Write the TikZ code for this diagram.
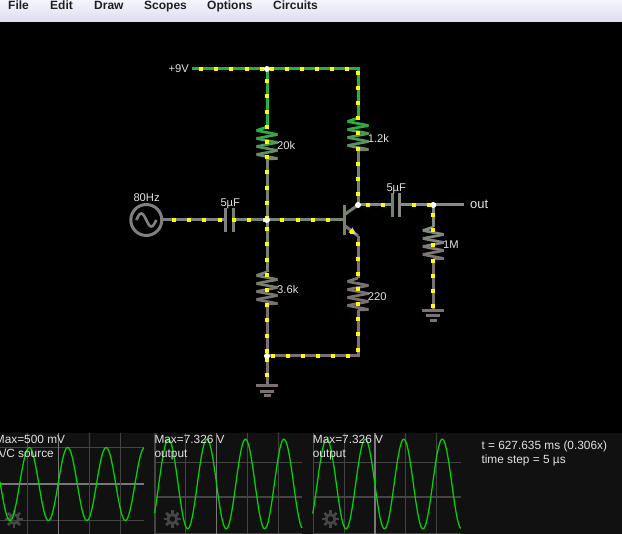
\documentclass[tikz,border=0pt]{standalone}
\usepackage{fontspec}
\setmainfont{Liberation Sans}
\definecolor{wgreen}{RGB}{38,178,60}
\definecolor{wbase}{RGB}{118,132,112}
\definecolor{wcoll}{RGB}{112,132,112}
\definecolor{wsrc}{RGB}{128,128,128}
\definecolor{wout}{RGB}{132,142,132}
\definecolor{wlow}{RGB}{124,112,112}
\definecolor{wdot}{RGB}{255,255,0}
\definecolor{lab}{RGB}{225,225,225}
\definecolor{scopebg}{RGB}{17,17,17}
\definecolor{gridlo}{RGB}{68,68,68}
\definecolor{gridhi}{RGB}{120,120,120}
\definecolor{wave}{RGB}{0,215,0}
\definecolor{gearc}{RGB}{70,70,70}
\newcommand{\zigzag}[4]{% name top, name bottom, colours
  \foreach \k in {0,...,8}{
    \pgfmathsetmacro{\mixa}{100-100*\k/8}
    \pgfmathsetmacro{\ya}{\k==0 ? 0 : (\k*4-0.5)}
    \pgfmathsetmacro{\xa}{\k==0 ? 0 : (mod(\k,2)==1 ? -10.5 : 10.5)}
    \pgfmathsetmacro{\yb}{\k==8 ? 32 : ((\k+1)*4-0.5)}
    \pgfmathsetmacro{\xb}{\k==8 ? 0 : (mod(\k+1,2)==1 ? -10.5 : 10.5)}
    \draw[reswire, draw=#3!\mixa!#4] ([shift={(\xa,\ya)}]#1) -- ([shift={(\xb,\yb)}]#1);
  }
}
\newcommand{\scopegear}[1]{%
  \begin{scope}[shift={(#1)}]
    \draw[gearc, line width=2.8pt] (0,0) circle (4.4pt);
    \foreach \a in {0,45,...,315}{
      \draw[gearc, line width=2.8pt, rotate=\a] (0,4.5) -- (0,8.6);
    }
  \end{scope}
}
\tikzset{
  x=1pt, y=-1pt,
  wire/.style={line width=3pt, line join=miter},
  reswire/.style={line width=2.7pt, line cap=butt},
  plate/.style={line width=3pt},
  gbar/.style={line width=3pt, draw=wlow},
  lbl/.style={text=lab, inner sep=0pt, anchor=base west, font=\fontsize{11.85}{14}\selectfont},
  clbl/.style={text=lab, inner sep=0pt, anchor=base west, font=\fontsize{11.2}{14}\selectfont},
  clble/.style={clbl, anchor=base east},
  menu/.style={text=black!88, inner sep=0pt, anchor=base west, font=\fontsize{12}{14}\selectfont\bfseries},
  wavepl/.style={draw=wave, line width=1.25pt, line join=round},
}
\begin{document}
\begin{tikzpicture}
\useasboundingbox (0,0) rectangle (622,534);
\fill[black] (0,0) rectangle (622,534);
% menu bar
\shade[top color=white!96!blue, bottom color=blue!8!white!94!black] (0,0) rectangle (622,22);
\node[menu] (mfile) at (8,9.3) {File};
\node[menu] (medit) at (50,9.3) {Edit};
\node[menu] (mdraw) at (94,9.3) {Draw};
\node[menu] (mscop) at (144,9.3) {Scopes};
\node[menu] (mopts) at (207,9.3) {Options};
\node[menu] (mcirc) at (273,9.3) {Circuits};
% scope strip
\fill[scopebg] (0,433) rectangle (622,534);
\foreach \yy in {447.3,520.3} \draw[gridlo, line width=1.1pt] (0,\yy) -- (144,\yy);
\draw[gridhi, line width=1.1pt] (0,484) -- (144,484);
\foreach \xx in {27.3,89.3,120.7} \draw[gridlo, line width=1.1pt] (\xx,433) -- (\xx,534);
\draw[gridhi, line width=1.1pt] (58.3,433) -- (58.3,534);
\foreach \yy in {462.3,497,533.3} {
  \draw[gridlo, line width=1.1pt] (154,\yy) -- (302,\yy);
  \draw[gridlo, line width=1.1pt] (312.7,\yy) -- (461,\yy);
}
\foreach \xx in {155,185.7,247.3,278.3,313.3,344.7,405.7,436.7} \draw[gridlo, line width=1.1pt] (\xx,433) -- (\xx,534);
\draw[gridhi, line width=1.1pt] (216.7,433) -- (216.7,534);
\draw[gridhi, line width=1.1pt] (375,433) -- (375,534);
\scopegear{14,519}
\scopegear{172.3,519}
\scopegear{330.5,519}
\draw[wavepl] plot[domain=0:144,samples=220] (\x,{484+36.5*cos((\x-10)/38.45*360)});
\draw[wavepl] plot[domain=154.5:302,samples=220] (\x,{484+44.8*cos((\x-187.7)/38.5*360)});
\draw[wavepl] plot[domain=312.7:460.7,samples=220] (\x,{484+44.8*cos((\x-346)/38.5*360)});
\node[lbl] (s1a) at (-5.3,444) {Max=500 mV};
\node[lbl] (s1b) at (-5,458) {A/C source};
\node[lbl] (s2a) at (154.3,444) {Max=7.326 V};
\node[lbl] (s2b) at (154.3,458) {output};
\node[lbl] (s3a) at (312.7,444) {Max=7.326 V};
\node[lbl] (s3b) at (312.7,458) {output};
\node[lbl] (info1) at (481.3,449.3) {t = 627.635 ms (0.306x)};
\node[lbl] (info2) at (481.3,463.3) {time step = 5 µs};
% circuit coordinates
\coordinate (vplus) at (191.7,69);
\coordinate (ntop) at (267,69);
\coordinate (ctop) at (358,69);
\coordinate (r1t) at (267,127);
\coordinate (r1b) at (267,159);
\coordinate (nbase) at (267,220);
\coordinate (r2t) at (267,272);
\coordinate (r2b) at (267,304);
\coordinate (nlow) at (267,356);
\coordinate (g1) at (267,386);
\coordinate (srcc) at (146.3,220);
\coordinate (srce) at (162.5,220);
\coordinate (c1a) at (225.7,220);
\coordinate (c1b) at (233.3,220);
\coordinate (bpin) at (344,220);
\coordinate (rct) at (358,118);
\coordinate (rcb) at (358,150);
\coordinate (ncoll) at (358,205);
\coordinate (qc) at (344,215);
\coordinate (qe) at (344,225);
\coordinate (qe2) at (358,236);
\coordinate (ret) at (358,278);
\coordinate (reb) at (358,310);
\coordinate (clow) at (358,356);
\coordinate (c2a) at (392,205);
\coordinate (c2b) at (399.5,205);
\coordinate (nout) at (433.3,205);
\coordinate (oute) at (464,205);
\coordinate (r3t) at (433.3,227);
\coordinate (r3b) at (433.3,259);
\coordinate (g2) at (433.3,310.7);
% wires
\draw[wire,wgreen] (vplus) -- (ntop);
\draw[wire,wgreen] (ntop) -- (ctop) -- (rct);
\draw[wire,wgreen] (ntop) -- (r1t);
\draw[wire,wbase] (r1b) -- (nbase);
\draw[wire,wbase] (nbase) -- (r2t);
\draw[wire,wlow] (r2b) -- (nlow);
\draw[wire,wlow] (nlow) -- (g1);
\draw[wire,wsrc] (srce) -- (c1a);
\draw[wire,wbase] (c1b) -- (nbase);
\draw[wire,wbase] (nbase) -- (bpin);
\draw[wire,wcoll] (rcb) -- (ncoll);
\draw[wire,wout] (ncoll) -- (c2a);
\draw[wire,wout] (c2b) -- (nout);
\draw[wire,wout] (nout) -- (oute);
\draw[wire,wout] (nout) -- (r3t);
\draw[wire,wlow] (r3b) -- (g2);
\draw[wire,wlow] (qe2) -- (ret);
\draw[wire,wlow] (reb) -- (clow) -- (nlow);
% resistors
\zigzag{r1t}{r1b}{wgreen}{wbase}
\zigzag{r2t}{r2b}{wbase}{wlow}
\zigzag{rct}{rcb}{wgreen}{wcoll}
\zigzag{ret}{reb}{wlow}{wlow}
\zigzag{r3t}{r3b}{wout}{wlow}
% capacitors
\draw[plate,wsrc] ([yshift=-12pt]c1a) -- ([yshift=12pt]c1a);
\draw[plate,wbase] ([yshift=-12pt]c1b) -- ([yshift=12pt]c1b);
\draw[plate,wcoll] ([yshift=-12pt]c2a) -- ([yshift=12pt]c2a);
\draw[plate,wout] ([yshift=-12pt]c2b) -- ([yshift=12pt]c2b);
% source
\draw[wsrc, line width=3pt] (srcc) circle (15.5pt);
\draw[wsrc, line width=2.6pt, shift={(srcc)}] plot[domain=-10:10,samples=40] (\x,{6.5*sin(18*\x)});
% transistor
\draw[wbase, line width=3pt] (344,205) -- (344,235);
\draw[wire,wcoll] (qc) -- (ncoll);
\draw[wire,wlow!70!wbase] (qe) -- (qe2);
\fill[black!25] (356.5,234.8) -- (348.5,232.5) -- (352.5,227.5) -- cycle;
% grounds
\draw[gbar] ([xshift=-11pt]g1) -- ([xshift=11pt]g1);
\draw[gbar] ([shift={(-7,5.3)}]g1) -- ([shift={(7,5.3)}]g1);
\draw[gbar] ([shift={(-3.5,9.7)}]g1) -- ([shift={(3.5,9.7)}]g1);
\draw[gbar] ([xshift=-11pt]g2) -- ([xshift=11pt]g2);
\draw[gbar] ([shift={(-7,5)}]g2) -- ([shift={(7,5)}]g2);
\draw[gbar] ([shift={(-3.5,9.5)}]g2) -- ([shift={(3.5,9.5)}]g2);
% current dots
\foreach \xx in {201,216.3,231.3,246.7,262,271.5,286.5,301.7,316.8,332,347.3}
  \fill[wdot] (\xx-2,67) rectangle (\xx+2,71);
\foreach \yy in {81.3,96.5,111.7,126.9,142,157.3,172.5,187.7,202.9,218,229.3,244.5,259.7,275,290,305.3,320.5,335.7,350.9,360,375}
  \fill[wdot] (265,\yy-2) rectangle (269,\yy+2);
\foreach \xx in {174,189.2,204.4,219.6,234.2,249.4,264.6,282.3,297.5,312.7,327.9}
  \fill[wdot] (\xx-2,218) rectangle (\xx+2,222);
\foreach \yy in {72.7,88,103,118.3,133.3,148.7,163.7,178.7,193.7,244,259,274,289.3,304.3,319.3,334.3,349.7}
  \fill[wdot] (356,\yy-2) rectangle (360,\yy+2);
\foreach \xx in {272.7,287.7,303,318,333,348.3}
  \fill[wdot] (\xx-2,354) rectangle (\xx+2,358);
\foreach \xx in {368.3,383.3,413.7,429}
  \fill[wdot] (\xx-2,203) rectangle (\xx+2,207);
\foreach \yy in {215.3,230.3,245.3,260.7,275.7,291,306}
  \fill[wdot] (431.3,\yy-2) rectangle (435.3,\yy+2);
\fill[wdot] (350.3,229.7) rectangle (354.3,233.7);
% junctions
\foreach \p in {ntop,nbase,ncoll,nout,nlow} \fill[white] (\p) circle (3pt);
% labels
\node[clble] (lv) at (189,73) {+9V};
\node[clbl] (l20k) at (277,150) {20k};
\node[clbl] (l12k) at (367.7,143) {1.2k};
\node[clbl] (l36k) at (277,294) {3.6k};
\node[clbl] (l220) at (367.7,301) {220};
\node[clbl] (l1m) at (443,249) {1M};
\node[clbl] (lhz) at (133.3,202) {80Hz};
\node[clbl] (lc1) at (220.3,207) {5µF};
\node[clbl] (lc2) at (386.3,192) {5µF};
\node[lbl, font=\fontsize{13}{15}\selectfont] (lout) at (470,209) {out};
\end{tikzpicture}
\end{document}
